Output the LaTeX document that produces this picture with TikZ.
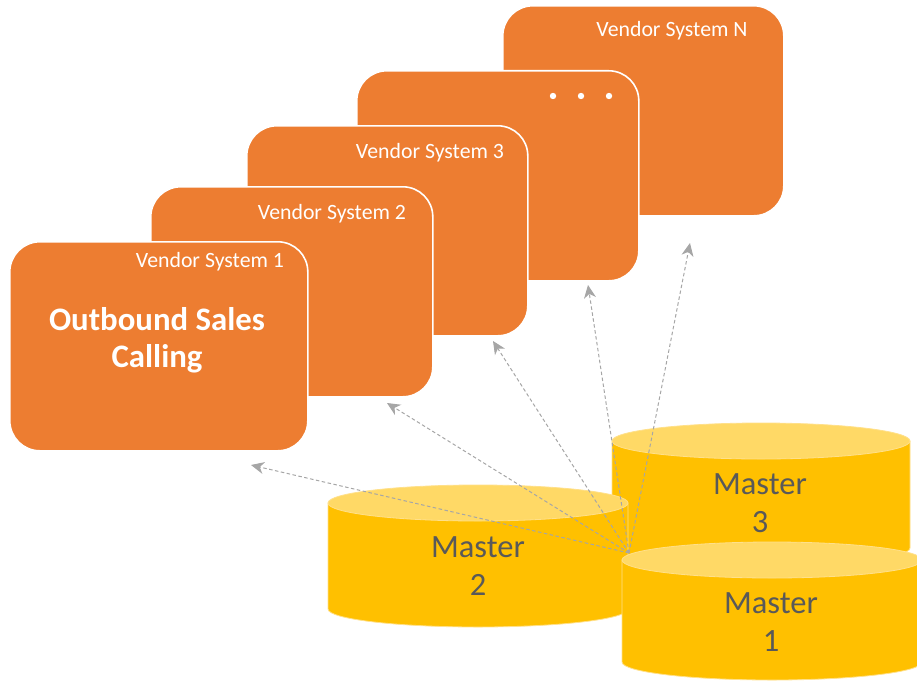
\documentclass[tikz,border=0pt]{standalone}
\usepackage{fontspec}
\setmainfont{Carlito}
\usetikzlibrary{arrows.meta}

\definecolor{vendorfill}{HTML}{ED7D31}
\definecolor{drumbody}{HTML}{FFC000}
\definecolor{drumtop}{HTML}{FFD966}
\definecolor{drumedge}{HTML}{FFE08A}
\definecolor{mastertext}{HTML}{595959}
\definecolor{linkgray}{HTML}{A6A6A6}

\tikzset{
  vendorbox/.style={draw=white, line width=1.6pt, fill=vendorfill,
    rounded corners=30pt, anchor=north west, inner sep=0pt,
    minimum width=#1},
  vendorlabel/.style={text=white, font=\fontsize{21.8}{26}\selectfont, inner sep=0pt},
  mastertitle/.style={text=mastertext, align=center,
    font=\fontsize{32.5}{38}\selectfont, inner sep=0pt},
  drumside/.style={fill=drumbody, draw=drumedge, line width=0.8pt},
  drumlid/.style={fill=drumtop, draw=drumedge, line width=0.8pt},
  feed/.style={draw=linkgray, line width=1pt, dash pattern=on 3.5pt off 2.5pt,
    -{Stealth[length=13pt, width=12pt, inset=4pt]}},
}

\begin{document}
\begin{tikzpicture}[x=1pt, y=-1pt]
\useasboundingbox (0,0) rectangle (917,682);
\clip (0,0) rectangle (917,682);

% ---- vendor systems, back to front ----
\node[vendorbox=281pt, minimum height=210pt] (vsN) at (502,5) {};
\node[vendorlabel] (vsNlabel) at (672,31) {Vendor System N};

\node[vendorbox=282pt, minimum height=210pt] (vsdots) at (356,70) {};
\foreach \px [count=\i] in {553,581,609}
  \fill[white] (\px,96) circle[radius=3.2pt] coordinate (dot\i);

\node[vendorbox=281pt, minimum height=210pt] (vs3) at (246,125) {};
\node[vendorlabel] (vs3label) at (430,153) {Vendor System 3};

\node[vendorbox=282pt, minimum height=210pt] (vs2) at (150,186) {};
\node[vendorlabel] (vs2label) at (332,214) {Vendor System 2};

\node[vendorbox=298pt, minimum height=209pt] (vs1) at (9,241) {};
\node[vendorlabel] (vs1label) at (210,262) {Vendor System 1};
\node[text=white, align=center, inner sep=0pt,
      font=\fontsize{32.8}{37}\selectfont\bfseries] (outbound) at (157,340)
  {Outbound Sales\\Calling};

% ---- master data stores ----
% Master 3
\path[drumside] (612,441) -- (612,548) arc[start angle=180, end angle=0, x radius=149, y radius=18] -- (910,441) -- cycle;
\path[drumlid] (761,441) ellipse[x radius=149, y radius=18];
\node[mastertitle] (m3) at (760,503) {Master\\3};

% Master 2
\path[drumside] (328,503) -- (328,609) arc[start angle=180, end angle=0, x radius=150, y radius=18] -- (628,503) -- cycle;
\path[drumlid] (478,503) ellipse[x radius=150, y radius=18];
\node[mastertitle] (m2) at (478,566) {Master\\2};

% Master 1
\path[drumside] (622,560) -- (622,662) arc[start angle=180, end angle=0, x radius=150, y radius=18] -- (922,560) -- cycle;
\path[drumlid] (772,560) ellipse[x radius=150, y radius=18];
\node[mastertitle] (m1) at (771,622) {Master\\1};

% ---- feeds from the masters into each vendor system ----
\coordinate (hub) at (629,553);
\coordinate (to1) at (251,465);
\coordinate (to2) at (387,403);
\coordinate (to3) at (493,341);
\coordinate (todots) at (588,285);
\coordinate (toN) at (690,243);
\foreach \t in {to1,to2,to3,todots,toN}
  \draw[feed] (hub) -- (\t);
\end{tikzpicture}
\end{document}
